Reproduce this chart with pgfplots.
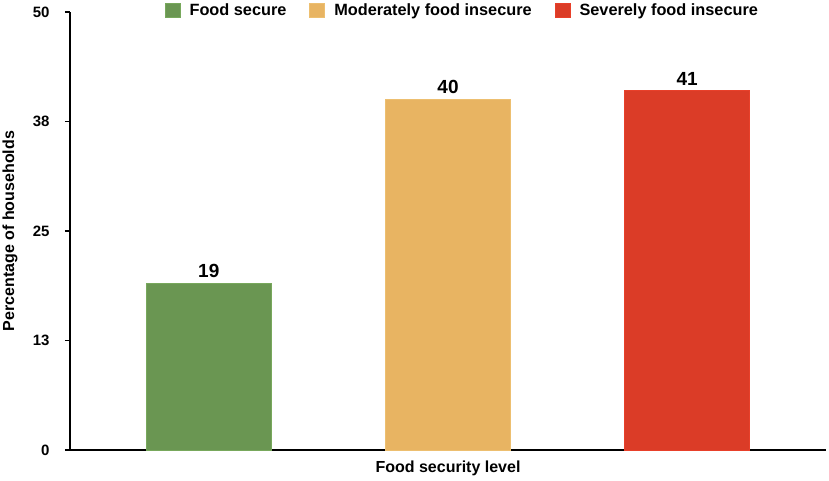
\documentclass[border=0pt]{standalone}
\usepackage{pgfplots}
\pgfplotsset{compat=1.18}
\usepackage{fontspec}
\setmainfont{Liberation Sans}
\definecolor{cgreen}{HTML}{6A9652}
\definecolor{corange}{HTML}{E8B462}
\definecolor{cred}{HTML}{DB3C27}
\definecolor{cgreenE}{HTML}{78A85C}
\definecolor{corangeE}{HTML}{EDBF70}
\definecolor{credE}{HTML}{E8402A}
\begin{document}
\begin{tikzpicture}[font=\bfseries]
\useasboundingbox (-70pt,-30pt) rectangle (759pt,450pt);
\begin{axis}[
  scale only axis, width=756pt, height=438pt,
  xmin=-0.58, xmax=2.58, ymin=0, ymax=50,
  axis lines=left,
  axis line style={-, line width=1.4pt, black},
  xtick=\empty,
  ytick={0,12.5,25,37.5,50},
  yticklabels={0,13,25,38,50},
  tick align=outside,
  major tick length=5pt,
  ytick style={line width=1.4pt, black},
  yticklabel style={font=\fontsize{15}{17}\selectfont\bfseries, xshift=-12pt},
  /pgf/number format/assume math mode=true,
  xlabel={Food security level},
  ylabel={Percentage of households},
  every axis x label/.style={at={(axis description cs:0.5,0)}, anchor=center, yshift=-18pt, font=\fontsize{16}{18}\selectfont\bfseries},
  every axis y label/.style={at={(axis description cs:-0.0794,0.5)}, anchor=center, rotate=90, font=\fontsize{16}{18}\selectfont\bfseries},
  ybar, bar width=125pt, bar shift=0pt,
  nodes near coords,
  every node near coord/.append style={font=\fontsize{19}{21}\selectfont\bfseries, black, yshift=2pt},
  clip=false,
  legend columns=3,
  legend style={draw=none, fill=none, at={(0.519,1.0)}, anchor=center, yshift=2pt,
    font=\fontsize{16.3}{18}\selectfont\bfseries,
    /tikz/every even column/.append style={column sep=21pt}},
]
\addplot[fill=cgreen, draw=cgreenE, line width=0.8pt,
  legend image code/.code={\path[fill=cgreen, draw=cgreenE] (0pt,-7pt) rectangle (15pt,7pt); \path (22pt,0pt);}]
  coordinates {(0,19)};
\addplot[fill=corange, draw=corangeE, line width=0.8pt,
  legend image code/.code={\path[fill=corange, draw=corangeE] (0pt,-7pt) rectangle (15pt,7pt); \path (22pt,0pt);}]
  coordinates {(1,40)};
\addplot[fill=cred, draw=credE, line width=0.8pt,
  legend image code/.code={\path[fill=cred, draw=credE] (0pt,-7pt) rectangle (15pt,7pt); \path (22pt,0pt);}]
  coordinates {(2,41)};
\legend{Food secure, Moderately food insecure, Severely food insecure}
\end{axis}
\end{tikzpicture}
\end{document}
